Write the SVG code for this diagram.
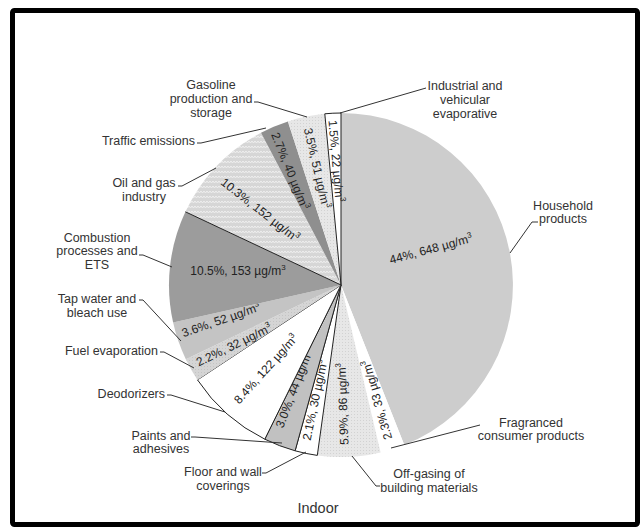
<svg xmlns="http://www.w3.org/2000/svg" width="641" height="529" viewBox="0 0 641 529">
<style>
.lbl{font-family:"Liberation Sans",Arial,sans-serif;font-size:12.5px;fill:#333}
.val{font-family:"Liberation Sans",Arial,sans-serif;font-size:12px;fill:#222}
.sup{font-size:8px}
.edge{stroke:#222;stroke-width:1;stroke-linejoin:round}
.lead{fill:none;stroke:#333;stroke-width:1}
</style>
<defs>
<pattern id="zig" width="6" height="5" patternUnits="userSpaceOnUse">
<rect width="6" height="5" fill="#d6d6d6"/>
<path d="M0,1 L1.5,3 L3,1 L4.5,3 L6,1" fill="none" stroke="#f0f0f0" stroke-width="0.9"/>
</pattern>
<pattern id="dots" width="3" height="3" patternUnits="userSpaceOnUse">
<rect width="3" height="3" fill="#e7e7e7"/>
<rect width="1" height="1" fill="#d2d2d2"/>
</pattern>
<pattern id="dots2" width="3" height="3" patternUnits="userSpaceOnUse">
<rect width="3" height="3" fill="#d5d5d5"/>
<rect width="1" height="1" fill="#c4c4c4"/>
</pattern>
</defs>
<rect x="0" y="0" width="641" height="529" fill="#fff"/>
<rect x="12.5" y="10.5" width="625" height="514" rx="2" fill="#fff" stroke="#000" stroke-width="5"/>

<g id="household">
<path d="M341,285 L341,113 A172,172 0 0,1 404.3,444.9 Z" fill="#cdcdcd"/>
<text class="val" text-anchor="middle" transform="translate(431,249) rotate(-15)" y="4">44%, 648 µg/m<tspan class="sup" dy="-5">3</tspan></text>
<text class="lbl" text-anchor="middle" x="563" y="210">Household</text>
<text class="lbl" text-anchor="middle" x="563" y="223">products</text>
</g>
<g id="fragranced">
<path d="M341,285 L404.3,444.9 A172,172 0 0,1 380.6,452.4 Z" fill="#fff"/>
<text class="val" text-anchor="middle" transform="translate(377,400) rotate(-106)" y="4">2.3%, 33 µg/m<tspan class="sup" dy="-5">3</tspan></text>
<text class="lbl" text-anchor="middle" x="531" y="426.5">Fragranced</text>
<text class="lbl" text-anchor="middle" x="531" y="440">consumer products</text>
</g>
<g id="offgasing">
<path d="M341,285 L380.6,452.4 A172,172 0 0,1 317.3,455.4 Z" fill="url(#dots)"/>
<text class="val" text-anchor="middle" transform="translate(343,404) rotate(-92)" y="4">5.9%, 86 µg/m<tspan class="sup" dy="-5">3</tspan></text>
<text class="lbl" text-anchor="middle" x="429" y="477.5">Off-gasing of</text>
<text class="lbl" text-anchor="middle" x="429" y="491.5">building materials</text>
</g>
<g id="floor">
<path class="edge" d="M341,285 L317.3,455.4 A172,172 0 0,1 295.1,450.8 Z" fill="#fff"/>
<text class="val" text-anchor="middle" transform="translate(315,400) rotate(-78)" y="4">2.1%, 30 µg/m<tspan class="sup" dy="-5">3</tspan></text>
<text class="lbl" text-anchor="middle" x="223" y="475.5">Floor and wall</text>
<text class="lbl" text-anchor="middle" x="223" y="489.5">coverings</text>
</g>
<g id="paints">
<path class="edge" d="M341,285 L295.1,450.8 A172,172 0 0,1 264.8,439.2 Z" fill="#c1c1c1"/>
<text class="val" text-anchor="middle" transform="translate(294,389) rotate(-69)" y="4">3.0%, 44 µg/m<tspan class="sup" dy="-5">3</tspan></text>
<text class="lbl" text-anchor="middle" x="161" y="439.5">Paints and</text>
<text class="lbl" text-anchor="middle" x="161" y="453">adhesives</text>
</g>
<g id="deodorizers">
<path class="edge" d="M341,285 L264.8,439.2 A172,172 0 0,1 197.5,379.9 Z" fill="#fff"/>
<text class="val" text-anchor="middle" transform="translate(266,369) rotate(-48)" y="4">8.4%, 122 µg/m<tspan class="sup" dy="-5">3</tspan></text>
<text class="lbl" text-anchor="end" x="165" y="397.5">Deodorizers</text>
</g>
<g id="fuel">
<path d="M341,285 L197.5,379.9 A172,172 0 0,1 185.8,359.2 Z" fill="url(#dots2)"/>
<text class="val" text-anchor="middle" transform="translate(234,345) rotate(-26)" y="4">2.2%, 32 µg/m<tspan class="sup" dy="-5">3</tspan></text>
<text class="lbl" text-anchor="end" x="158" y="354.5">Fuel evaporation</text>
</g>
<g id="tapwater">
<path d="M341,285 L185.8,359.2 A172,172 0 0,1 173.1,322.5 Z" fill="#c4c4c4"/>
<text class="val" text-anchor="middle" transform="translate(221,320) rotate(-19)" y="4">3.6%, 52 µg/m<tspan class="sup" dy="-5">3</tspan></text>
<text class="lbl" text-anchor="middle" x="97" y="302.5">Tap water and</text>
<text class="lbl" text-anchor="middle" x="97" y="316.5">bleach use</text>
</g>
<g id="combustion">
<path d="M341,285 L173.1,322.5 A172,172 0 0,1 185.4,211.8 Z" fill="#9c9c9c"/>
<text class="val" text-anchor="middle" x="238" y="275">10.5%, 153 µg/m<tspan class="sup" dy="-5">3</tspan></text>
<text class="lbl" text-anchor="middle" x="97" y="241.5">Combustion</text>
<text class="lbl" text-anchor="middle" x="97" y="255">processes and</text>
<text class="lbl" text-anchor="middle" x="97" y="268.5">ETS</text>
</g>
<g id="oilgas">
<path d="M341,285 L185.4,211.8 A172,172 0 0,1 261,132.7 Z" fill="url(#zig)"/>
<text class="val" text-anchor="middle" transform="translate(260,210) rotate(38)" y="4">10.3%, 152 µg/m<tspan class="sup" dy="-5">3</tspan></text>
<text class="lbl" text-anchor="middle" x="144" y="186.5">Oil and gas</text>
<text class="lbl" text-anchor="middle" x="144" y="200.5">industry</text>
</g>
<g id="traffic">
<path d="M341,285 L261,132.7 A172,172 0 0,1 287.9,121.4 Z" fill="#8f8f8f"/>
<text class="val" text-anchor="middle" transform="translate(290,171) rotate(68)" y="4">2.7%, 40 µg/m<tspan class="sup" dy="-5">3</tspan></text>
<text class="lbl" text-anchor="end" x="195" y="144.5">Traffic emissions</text>
</g>
<g id="gasoline">
<path d="M341,285 L287.9,121.4 A172,172 0 0,1 324.8,113.8 Z" fill="url(#dots)"/>
<text class="val" text-anchor="middle" transform="translate(317,168) rotate(77)" y="4">3.5%, 51 µg/m<tspan class="sup" dy="-5">3</tspan></text>
<text class="lbl" text-anchor="middle" x="211" y="88.5">Gasoline</text>
<text class="lbl" text-anchor="middle" x="211" y="102.5">production and</text>
<text class="lbl" text-anchor="middle" x="211" y="116.5">storage</text>
</g>
<g id="industrial">
<path class="edge" d="M341,285 L324.8,113.8 A172,172 0 0,1 341,113 Z" fill="#fff"/>
<text class="val" text-anchor="middle" transform="translate(336,161) rotate(85)" y="4">1.5%, 22 µg/m<tspan class="sup" dy="-5">3</tspan></text>
<text class="lbl" text-anchor="middle" x="465" y="89.5">Industrial and</text>
<text class="lbl" text-anchor="middle" x="465" y="103.5">vehicular</text>
<text class="lbl" text-anchor="middle" x="465" y="117.5">evaporative</text>
</g>
<line class="edge" x1="341" y1="285" x2="185.4" y2="211.8"/>

<g id="connectors">
<polyline class="lead" points="254,102 258,102 307,117"/>
<polyline class="lead" points="426,88 340,113"/>
<polyline class="lead" points="197,143 201,143 266,128"/>
<polyline class="lead" points="178,186 182,186 216,168"/>
<polyline class="lead" points="139,255 143,255 172,267"/>
<polyline class="lead" points="139,300 143,300 181,341"/>
<polyline class="lead" points="160,352 164,352 194,368"/>
<polyline class="lead" points="167,395 171,395 225,412"/>
<polyline class="lead" points="191,437 195,437 282,443"/>
<polyline class="lead" points="262,473 266,473 306,452"/>
<polyline class="lead" points="352,456 376,486 380,486"/>
<polyline class="lead" points="480,425 391,448"/>
<polyline class="lead" points="538,222 532,222 510,253"/>
</g>
<text class="lbl" style="font-size:14.5px" text-anchor="middle" x="318" y="513">Indoor</text>
</svg>
